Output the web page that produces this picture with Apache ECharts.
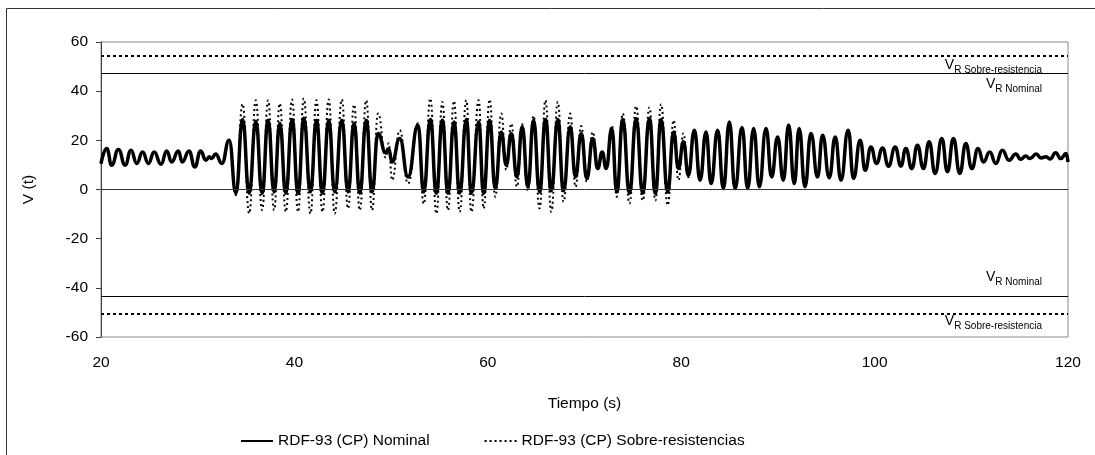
<!DOCTYPE html>
<html>
<head>
<meta charset="utf-8">
<script src="https://cdn.jsdelivr.net/npm/echarts@6/dist/echarts.min.js"></script>
<style>
  html, body { margin: 0; padding: 0; background: #fff; }
  #chart { width: 1095px; height: 455px; }
</style>
</head>
<body>
<div id="chart"></div>
<script>
// Time of each turning point of the response (s)
const tiempo = [
  20.0, 20.6, 21.1, 21.8, 22.5, 23.1, 23.7, 24.3, 24.9, 25.5,
  26.2, 26.8, 27.3, 28.0, 28.4, 29.1, 29.7, 30.3, 30.85, 31.2,
  31.45, 31.85, 32.5, 33.25, 33.95, 34.64, 35.32, 36.01, 36.66, 37.28,
  37.9, 38.49, 39.11, 39.76, 40.38, 40.97, 41.66, 42.28, 42.9, 43.55,
  44.17, 44.9, 45.55, 46.17, 46.76, 47.43, 48.03, 48.65, 49.44, 49.75,
  50.1, 50.89, 51.75, 52.78, 53.37, 54.06, 54.68, 55.3, 55.88, 56.5,
  57.09, 57.78, 58.3, 59.05, 59.57, 60.19, 60.77, 61.39, 61.91, 62.43,
  63.01, 63.56, 64.14, 64.73, 65.35, 65.97, 66.56, 67.24, 67.83, 68.52,
  69.07, 69.66, 70.24, 70.86, 71.37, 71.83, 72.24, 72.82, 73.34, 73.96,
  74.65, 75.34, 76.02, 76.71, 77.33, 77.92, 78.6, 79.22, 79.71, 80.23,
  80.74, 81.36, 81.95, 82.57, 83.09, 83.77, 84.36, 84.98, 85.57, 86.29,
  86.87, 87.49, 88.08, 88.77, 89.35, 89.97, 90.56, 91.11, 91.69, 92.2,
  92.8, 93.42, 94.1, 94.62, 95.31, 95.93, 96.52, 97.27, 97.82, 98.51,
  99.03, 99.62, 100.2, 100.82, 101.43, 102.13, 102.72, 103.23, 103.85, 104.43,
  105.05, 105.64, 106.26, 106.95, 107.53, 108.15, 108.81, 109.43, 110.05, 110.7,
  111.25, 111.91, 112.53, 113.21, 113.9, 114.6, 115.11, 115.63, 116.07, 116.72,
  117.21, 117.73, 118.14, 118.73, 119.25, 119.8, 120.0
];

// RDF-93 (CP) Nominal, V(t) at each turning point
const nominal = [
  10.5, 16.7, 9.9, 16.3, 9.9, 16.0, 10.6, 15.3, 10.6, 15.3,
  10.3, 15.7, 11.2, 15.7, 11.2, 15.7, 9.2, 15.7, 11.9, 13.3,
  12.6, 14.4, 10.6, 20.0, -1.5, 28.5, -1.5, 27.8, -1.5, 28.2,
  -1.0, 27.0, -1.5, 28.5, -1.5, 29.0, -1.0, 28.2, -1.5, 28.2,
  -1.0, 28.2, -1.0, 27.0, -1.5, 28.2, -1.0, 22.8, 15.0, 16.5,
  11.2, 20.7, 5.1, 26.2, -1.0, 28.5, -1.5, 28.2, -1.5, 27.5,
  -1.5, 28.5, -1.5, 27.5, -1.5, 28.2, 0.5, 23.4, 9.9, 22.8,
  5.1, 25.5, 1.1, 28.2, -1.0, 28.5, -0.5, 28.5, -0.5, 25.5,
  5.1, 22.8, 4.5, 20.7, 8.5, 15.3, 8.5, 24.8, -1.0, 28.5,
  -1.5, 28.9, -1.5, 28.9, -1.5, 28.5, -1.0, 23.4, 8.5, 19.4,
  5.8, 24.1, 3.8, 23.4, 2.4, 24.1, 0.4, 27.5, 0.4, 25.2,
  0.4, 24.8, 1.1, 24.8, 5.1, 21.4, 3.8, 26.2, 2.4, 24.8,
  1.1, 22.8, 5.1, 22.1, 4.8, 21.4, 3.8, 24.1, 4.5, 20.0,
  7.8, 17.3, 10.6, 16.9, 9.5, 17.3, 9.5, 16.7, 8.5, 18.0,
  8.5, 19.4, 6.5, 20.7, 7.2, 20.7, 6.5, 18.7, 8.5, 16.7,
  11.2, 15.3, 10.6, 16.0, 11.9, 14.4, 12.3, 13.6, 12.6, 14.4,
  12.8, 13.3, 12.4, 14.9, 12.6, 14.6, 11.2
];

// RDF-93 (CP) Sobre-resistencias, V(t) at the same turning points
const sobre = [
  10.5, 16.7, 9.9, 16.3, 9.9, 16.0, 10.6, 15.3, 10.6, 15.3,
  10.3, 15.7, 11.2, 15.7, 11.2, 15.7, 9.2, 15.7, 11.9, 13.3,
  12.6, 14.4, 10.6, 20.0, -2.3, 34.8, -9.7, 36.3, -8.4, 36.3,
  -8.4, 35.0, -9.1, 36.6, -9.1, 37.0, -9.8, 36.3, -9.1, 36.6,
  -9.8, 36.6, -7.7, 34.5, -8.4, 36.3, -8.4, 30.9, 13.0, 18.8,
  3.8, 24.1, 2.4, 27.0, -5.8, 37.0, -9.8, 35.6, -8.4, 36.0,
  -9.1, 36.3, -9.1, 36.3, -7.7, 36.6, -3.0, 30.9, 8.0, 26.8,
  1.1, 26.5, -0.5, 30.0, -7.7, 36.3, -9.1, 35.6, -5.0, 30.9,
  1.1, 25.8, 3.1, 23.4, 8.5, 15.3, 8.5, 26.0, -3.0, 30.9,
  -5.7, 33.9, -4.5, 33.4, -4.5, 34.7, -6.4, 28.2, 3.8, 22.8,
  5.0, 24.1, 3.8, 23.4, 2.4, 24.1, 0.4, 27.5, 0.4, 25.2,
  0.4, 24.8, 1.1, 24.8, 5.1, 21.4, 3.8, 26.2, 2.4, 24.8,
  1.1, 22.8, 5.1, 22.1, 4.8, 21.4, 3.8, 24.1, 4.5, 20.0,
  7.8, 17.3, 10.6, 16.9, 9.5, 17.3, 9.5, 16.7, 8.5, 18.0,
  8.5, 19.4, 6.5, 20.7, 7.2, 20.7, 6.5, 18.7, 8.5, 16.7,
  11.2, 15.3, 10.6, 16.0, 11.9, 14.4, 12.3, 13.6, 12.6, 14.4,
  12.8, 13.3, 12.4, 14.9, 12.6, 14.6, 11.2
];

// Resistance limits V_R (upper, lower)
const limiteNominal = [47.3, -43.4];
const limiteSobre = [54.6, -50.6];

// Axis ticks
const ticksX = [20, 40, 60, 80, 100, 120];
const ticksY = [-60, -40, -20, 0, 20, 40, 60];

const nombres = ['RDF-93 (CP) Nominal', 'RDF-93 (CP) Sobre-resistencias'];

const FONT = 'Liberation Sans, Arial, sans-serif';
const FS = 15.5;

function pares(ys) {
  return tiempo.map(function (t, i) { return [t, ys[i]]; });
}

const richVR = {
  v: { fontSize: 14, fontFamily: FONT, color: '#000', lineHeight: 16, verticalAlign: 'top' },
  s: { fontSize: 10, fontFamily: FONT, color: '#000', lineHeight: 12, verticalAlign: 'top', padding: [7, 0, 0, 0] }
};

const chart = echarts.init(document.getElementById('chart'), null, { renderer: 'canvas' });

chart.setOption({
  animation: false,
  backgroundColor: '#fff',
  graphic: [{
    type: 'rect',
    shape: { x: 6.5, y: 8.5, width: 1200, height: 600 },
    style: { fill: 'none', stroke: '#333', lineWidth: 1 },
    silent: true, z: -10
  }],
  grid: {
    left: 101, right: 27, top: 42, bottom: 118,
    show: true, borderColor: '#888', borderWidth: 1, backgroundColor: 'transparent'
  },
  legend: {
    left: 235, top: 428,
    itemWidth: 32, itemHeight: 14, itemGap: 54,
    itemStyle: { opacity: 0 },
    textStyle: { fontSize: FS, color: '#000', fontFamily: FONT },
    data: nombres
  },
  xAxis: {
    type: 'value',
    min: ticksX[0], max: ticksX[ticksX.length - 1], interval: ticksX[1] - ticksX[0],
    name: 'Tiempo (s)', nameLocation: 'middle', nameGap: 59,
    nameTextStyle: { fontSize: FS, color: '#000', fontFamily: FONT },
    axisLine: { show: false, onZero: false },
    axisTick: { show: false },
    splitLine: { show: false },
    axisLabel: { fontSize: FS, color: '#000', fontFamily: FONT, margin: 18 }
  },
  yAxis: {
    type: 'value',
    min: ticksY[0], max: ticksY[ticksY.length - 1], interval: ticksY[1] - ticksY[0],
    name: 'V (t)', nameLocation: 'middle', nameGap: 64, nameRotate: 90,
    nameTextStyle: { fontSize: FS, color: '#000', fontFamily: FONT },
    axisLine: { show: true, lineStyle: { color: '#404040', width: 1 } },
    axisTick: { show: true, inside: false, length: 5, lineStyle: { color: '#404040' } },
    splitLine: { show: false },
    axisLabel: { fontSize: FS, color: '#000', fontFamily: FONT, margin: 13 }
  },
  series: [
    {
      name: nombres[1],
      type: 'line',
      data: pares(sobre),
      smooth: 0.5,
      smoothMonotone: 'x',
      showSymbol: false,
      symbol: 'none',
      z: 2,
      lineStyle: { color: '#000', width: 2, type: [2, 3] },
      itemStyle: { color: '#000' },
      markLine: {
        silent: true,
        symbol: ['none', 'none'],
        lineStyle: { color: '#000', width: 2, type: [3, 3] },
        label: {
          show: true,
          formatter: '{v|V}{s|R Sobre-resistencia}',
          rich: richVR
        },
        data: [
          { yAxis: limiteSobre[0], label: { position: 'insideEndBottom', distance: [26, 3] } },
          { yAxis: limiteSobre[1], label: { position: 'insideEndBottom', distance: [26, 0] } }
        ]
      }
    },
    {
      name: nombres[0],
      type: 'line',
      data: pares(nominal),
      smooth: 0.5,
      smoothMonotone: 'x',
      showSymbol: false,
      symbol: 'none',
      z: 3,
      lineStyle: { color: '#000', width: 3.5 },
      itemStyle: { color: '#000' },
      markLine: {
        silent: true,
        symbol: ['none', 'none'],
        lineStyle: { color: '#000', width: 1, type: 'solid' },
        label: {
          show: true,
          formatter: '{v|V}{s|R Nominal}',
          rich: richVR
        },
        data: [
          { yAxis: limiteNominal[0], label: { position: 'insideEndBottom', distance: [26, 4] } },
          { yAxis: limiteNominal[1], label: { position: 'insideEndTop', distance: [26, 10] } },
          { yAxis: 0, lineStyle: { color: '#333', width: 1 }, label: { show: false } }
        ]
      }
    }
  ]
});
</script>
</body>
</html>
